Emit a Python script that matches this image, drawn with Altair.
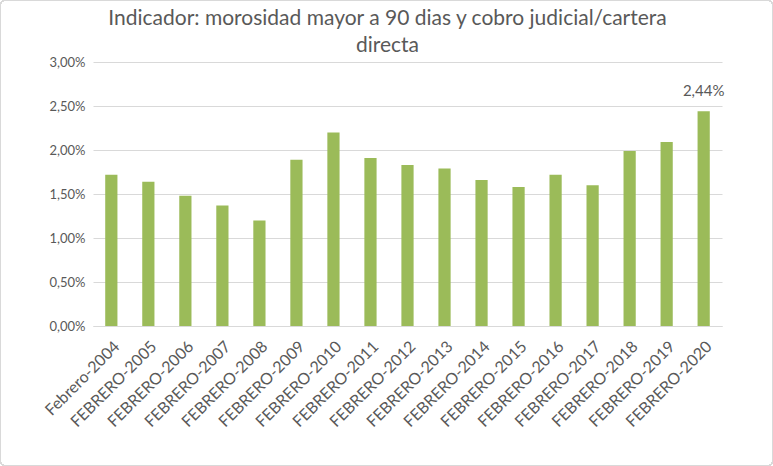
import altair as alt
import pandas as pd

categories = ["Febrero-2004", "FEBRERO-2005", "FEBRERO-2006", "FEBRERO-2007", "FEBRERO-2008",
              "FEBRERO-2009", "FEBRERO-2010", "FEBRERO-2011", "FEBRERO-2012", "FEBRERO-2013",
              "FEBRERO-2014", "FEBRERO-2015", "FEBRERO-2016", "FEBRERO-2017", "FEBRERO-2018",
              "FEBRERO-2019", "FEBRERO-2020"]
values = [0.0172, 0.0164, 0.0148, 0.0137, 0.0120, 0.0189, 0.0220, 0.0191, 0.0183, 0.0179,
          0.0166, 0.0158, 0.0172, 0.0160, 0.0199, 0.0209, 0.0244]
y_ticks = [0, 0.005, 0.01, 0.015, 0.02, 0.025, 0.03]
labelled = ["FEBRERO-2020"]

df = pd.DataFrame({"cat": categories, "val": values})
df["lbl"] = [("%.2f%%" % (v * 100)).replace(".", ",") if c in labelled else "" for c, v in zip(categories, values)]

FONT = "Lato"
GRAY = "#595959"

x = alt.X("cat:N", sort=categories, title=None,
          scale=alt.Scale(paddingInner=0.67, paddingOuter=0.33),
          axis=alt.Axis(labelAngle=-45, labelFontSize=16, labelColor=GRAY, labelFont=FONT,
                        ticks=False, domainColor="#d9d9d9", labelPadding=12))
y = alt.Y("val:Q", title=None,
          scale=alt.Scale(domain=[0, 0.03]),
          axis=alt.Axis(values=y_ticks, labelExpr="replace(format(datum.value, '.2%'), '.', ',')",
                        labelFontSize=13, labelColor=GRAY, labelFont=FONT, domain=False,
                        ticks=False, gridColor="#d9d9d9", labelPadding=8))

bars = alt.Chart(df).mark_bar(color="#9BBB59").encode(x=x, y=y)
text = alt.Chart(df).mark_text(dy=-20, fontSize=15, color=GRAY, font=FONT).encode(
    x=alt.X("cat:N", sort=categories), y="val:Q", text="lbl:N")

border = alt.Chart(df).mark_rect(fill=None, stroke="#d9d9d9", strokeWidth=1, cornerRadius=4).encode(
    x=alt.value(-92.5), x2=alt.value(679.5), y=alt.value(-61.5), y2=alt.value(403.5))

chart = alt.layer(border, bars, text).properties(
    width=629, height=264,
    autosize=alt.AutoSizeParams(type="none"),
    padding={"left": 93, "top": 62, "right": 51, "bottom": 140},
    title=alt.TitleParams(["Indicador: morosidad mayor a 90 dias y cobro judicial/cartera", "directa"],
                          font=FONT, fontSize=21, fontWeight="normal", color=GRAY,
                          anchor="middle", dx=-20, dy=64, offset=8, lineHeight=27),
).configure_view(stroke=None)

chart.save("out.html", embed_options={"renderer": "svg", "actions": False})
